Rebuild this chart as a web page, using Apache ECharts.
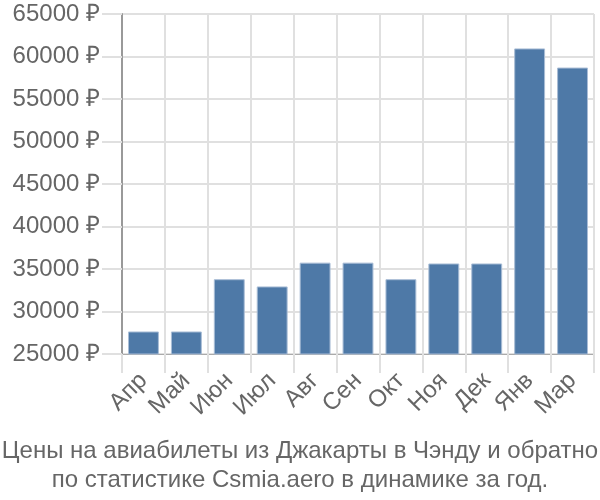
<!DOCTYPE html>
<html>
<head>
<meta charset="utf-8">
<script src="https://cdn.jsdelivr.net/npm/echarts@6/dist/echarts.min.js"></script>
<style>html,body{margin:0;padding:0;background:#fff}#c{width:600px;height:500px}</style>
</head>
<body>
<div id="c"></div>
<script>
const categories = ['Апр','Май','Июн','Июл','Авг','Сен','Окт','Ноя','Дек','Янв','Мар'];
const prices = [27650, 27650, 33800, 32950, 35750, 35750, 33800, 35650, 35650, 60950, 58700];
const titleLines = ['Цены на авиабилеты из Джакарты в Чэнду и обратно','по статистике Csmia.aero в динамике за год.'];

const chart = echarts.init(document.getElementById('c'), null, {renderer:'canvas'});
const font = 'Liberation Sans, Arial, sans-serif';
chart.setOption({
  animation: false,
  textStyle: {fontFamily: font},
  title: {
    text: titleLines.join('\n'),
    left: 'center',
    top: 432,
    textStyle: {fontFamily: font, fontSize: 24, fontWeight: 'normal', color: '#666', lineHeight: 29}
  },
  grid: {left: 122, right: 6, top: 14, bottom: 146, containLabel: false},
  xAxis: {
    type: 'category',
    data: categories,
    axisLine: {show: true, lineStyle: {color: '#aaa', width: 1}},
    axisTick: {show: true, length: 19, alignWithLabel: false, lineStyle: {color: '#e0e0e0', width: 2}},
    splitLine: {show: true, lineStyle: {color: '#e0e0e0', width: 2}},
    axisLabel: {rotate: 45, fontSize: 24, color: '#666', margin: 23, fontFamily: font, interval: 0}
  },
  yAxis: {
    type: 'value',
    min: 25000, max: 65000, interval: 5000,
    axisLine: {show: true, lineStyle: {color: '#999', width: 2}},
    axisTick: {show: true, length: 20, lineStyle: {color: '#e0e0e0', width: 2}},
    splitLine: {show: true, lineStyle: {color: '#e0e0e0', width: 2}},
    axisLabel: {formatter: function (v) { return v + ' ₽'; }, fontSize: 24, color: '#666', margin: 22, fontFamily: font}
  },
  series: [{
    type: 'bar',
    data: prices,
    barCategoryGap: '28%',
    itemStyle: {color: '#4e79a7', borderColor: '#a9bdd6', borderWidth: 1}
  }]
});
</script>
</body>
</html>
